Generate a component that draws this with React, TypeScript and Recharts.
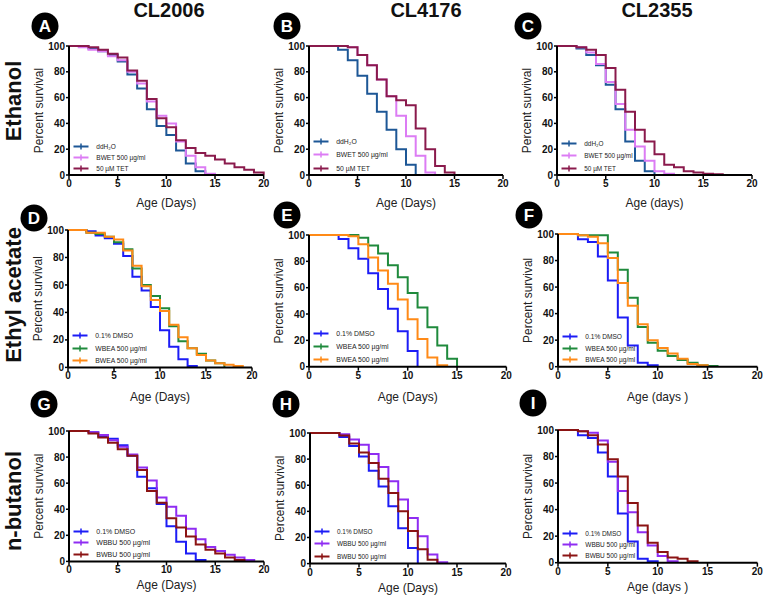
import React from "react";
import { LineChart, Line, XAxis, YAxis, Legend } from "recharts";

const FONT = "Arial, 'Liberation Sans', Helvetica, sans-serif";

// days on the x axis (index of every series = day)
const DAYS = [0, 1, 2, 3, 4, 5, 6, 7, 8, 9, 10, 11, 12, 13, 14, 15, 16, 17, 18, 19, 20];
const X_TICKS = [0, 5, 10, 15, 20];
const Y_TICKS = [0, 20, 40, 60, 80, 100];

// Ethanol row
const A_DDH2O = [100, 100, 98, 96, 93, 88, 78, 67, 51, 38, 31, 19, 9, 3, 0];
const A_BWET = [100, 99, 97, 96, 92, 89, 80, 71, 57, 46, 40, 26, 15, 6, 1, 0];
const A_TET = [100, 100, 99, 97, 94, 91, 81, 73, 59, 44, 37, 27, 21, 17, 15, 12, 9, 6, 4, 2, 0];

const B_DDH2O = [100, 100, 100, 97, 89, 77, 63, 49, 35, 20, 8, 0];
const B_BWET = [100, 100, 100, 100, 99, 93, 85, 74, 61, 46, 30, 15, 2, 0];
const B_TET = [100, 100, 100, 100, 99, 93, 85, 74, 61, 58, 54, 36, 20, 7, 2, 0];

const C_DDH2O = [100, 100, 98, 93, 85, 70, 51, 26, 11, 3, 0];
const C_BWET = [100, 100, 99, 95, 86, 72, 55, 35, 22, 11, 3, 1, 0];
const C_TET = [100, 100, 99, 97, 93, 83, 66, 49, 35, 26, 16, 8, 6, 3, 2, 1, 0.5, 0];

// Ethyl acetate row
const D_DMSO = [100, 100, 99, 96, 94, 90, 81, 66, 56, 44, 27, 15, 6, 1, 0];
const D_WBEA = [100, 100, 98, 97, 95, 91, 86, 72, 60, 52, 43, 30, 19, 14, 10, 5, 3, 0];
const D_BWEA = [100, 100, 98, 98, 95, 93, 85, 74, 59, 49, 41, 31, 22, 14, 9, 5, 3, 2, 1, 0];

const E_DMSO = [100, 100, 100, 97, 90, 82, 71, 59, 44, 27, 12, 0];
const E_WBEA = [100, 100, 100, 100, 100, 98, 92, 86, 77, 68, 56, 45, 30, 16, 6, 0];
const E_BWEA = [100, 100, 100, 100, 99, 93, 83, 73, 63, 51, 36, 21, 7, 1, 0];

const F_DMSO = [100, 100, 96, 94, 83, 65, 37, 16, 3, 1, 0];
const F_WBEA = [100, 100, 99, 99, 99, 86, 73, 52, 30, 18, 12, 8, 5, 3, 1, 0.5, 0];
const F_BWEA = [100, 100, 99, 98, 93, 82, 63, 46, 32, 20, 14, 10, 6, 2, 1, 0];

// n-butanol row
const G_DMSO = [100, 100, 99, 96, 94, 89, 81, 65, 56, 44, 27, 15, 6, 1, 0];
const G_WBBU = [100, 100, 99, 97, 93, 88, 82, 72, 62, 49, 42, 35, 25, 17, 11, 8, 5, 3, 1, 0];
const G_BWBU = [100, 100, 98, 95, 91, 86, 81, 70, 54, 45, 33, 26, 19, 13, 9, 6, 3, 1, 0];

const H_DMSO = [100, 100, 100, 97, 90, 82, 71, 59, 44, 27, 12, 0];
const H_WBBU = [100, 100, 100, 99, 95, 91, 84, 74, 63, 49, 35, 21, 7, 1, 0];
const H_BWBU = [100, 100, 100, 98, 92, 85, 77, 65, 54, 40, 25, 11, 3, 0];

const I_DMSO = [100, 100, 96, 94, 83, 65, 37, 16, 3, 1, 0];
const I_WBBU = [100, 100, 99, 98, 92, 76, 54, 38, 23, 13, 5, 1, 0];
const I_BWBU = [100, 100, 99, 96, 89, 78, 65, 45, 28, 15, 8, 4, 3, 1, 0];

const COL_HEADERS = ["CL2006", "CL4176", "CL2355"];
const ROW_LABELS = ["Ethanol", "Ethyl acetate", "n-butanol"];

const COLORS = {
  ddh2o: "#1d5796",
  bwet: "#dc7cf4",
  tet: "#8a1a4c",
  dmso: "#1c1cf6",
  wbea: "#1f8a3c",
  bwea: "#ff8a17",
  wbbu: "#8f2cf2",
  bwbu: "#8b1313",
};

const ETH = (a: number[], b: number[], c: number[]) => [
  { name: "ddH₂O", color: COLORS.ddh2o, values: a },
  { name: "BWET 500 µg/ml", color: COLORS.bwet, values: b },
  { name: "50 µM TET", color: COLORS.tet, values: c },
];
const EA = (a: number[], b: number[], c: number[]) => [
  { name: "0.1% DMSO", color: COLORS.dmso, values: a },
  { name: "WBEA 500 µg/ml", color: COLORS.wbea, values: b },
  { name: "BWEA 500 µg/ml", color: COLORS.bwea, values: c },
];
const BU = (a: number[], b: number[], c: number[]) => [
  { name: "0.1% DMSO", color: COLORS.dmso, values: a },
  { name: "WBBU 500 µg/ml", color: COLORS.wbbu, values: b },
  { name: "BWBU 500 µg/ml", color: COLORS.bwbu, values: c },
];

const PANELS = [
  { letter: "A", cx: 45, cy: 26, left: 69.3, right: 264, top: 46, bottom: 175, xTitle: "Age (Days)", titleDy: 28, gap: 11, lf: 6.5, series: ETH(A_DDH2O, A_BWET, A_TET) },
  { letter: "B", cx: 287, cy: 26, left: 309.3, right: 503.3, top: 46, bottom: 175, xTitle: "Age (Days)", titleDy: 28, gap: 13.5, lf: 6.8, series: ETH(B_DDH2O, B_BWET, B_TET) },
  { letter: "C", cx: 528, cy: 26, left: 557.3, right: 752.3, top: 46, bottom: 175, xTitle: "Age (days)", titleDy: 28, gap: 12.5, lf: 6.4, series: ETH(C_DDH2O, C_BWET, C_TET) },
  { letter: "D", cx: 34, cy: 218, left: 68.3, right: 252.3, top: 230.3, bottom: 367.7, xTitle: "Age (Days)", titleDy: 30, gap: 12.5, lf: 6.8, series: EA(D_DMSO, D_WBEA, D_BWEA) },
  { letter: "E", cx: 287, cy: 215, left: 309.3, right: 506.7, top: 235, bottom: 366.7, xTitle: "Age (Days)", titleDy: 30, gap: 13, lf: 6.9, series: EA(E_DMSO, E_WBEA, E_BWEA) },
  { letter: "F", cx: 529, cy: 215, left: 558.3, right: 757.7, top: 234, bottom: 366.7, xTitle: "Age (days )", titleDy: 30, gap: 11.5, lf: 6.6, series: EA(F_DMSO, F_WBEA, F_BWEA) },
  { letter: "G", cx: 44, cy: 404, left: 69.3, right: 264.3, top: 431.3, bottom: 561.7, xTitle: "Age (Days)", titleDy: 24, gap: 11.7, lf: 7, series: BU(G_DMSO, G_WBBU, G_BWBU) },
  { letter: "H", cx: 286, cy: 404, left: 310, right: 506, top: 432.7, bottom: 563.3, xTitle: "Age (Days)", titleDy: 24, gap: 12.5, lf: 6.4, series: BU(H_DMSO, H_WBBU, H_BWBU) },
  { letter: "I", cx: 533, cy: 403, left: 558.3, right: 757.7, top: 430, bottom: 562.7, xTitle: "Age (days )", titleDy: 24, gap: 11, lf: 6.5, series: BU(I_DMSO, I_WBBU, I_BWBU) },
];

const Y_W = 55;
const TOP_M = 8;
const RIGHT_M = 10;
const X_H = 40;

function makeLegend(gap: number, fontSize: number) {
  return ({ payload }: any) => (
    <div style={{ fontFamily: FONT }}>
      {(payload || []).map((p: any) => (
        <div key={p.value} style={{ display: "flex", alignItems: "center", height: gap }}>
          <svg width={16} height={7} style={{ display: "block" }}>
            <line x1={0.5} y1={3.5} x2={15.5} y2={3.5} stroke={p.color} strokeWidth={2} />
            <line x1={8} y1={0.5} x2={8} y2={6.5} stroke={p.color} strokeWidth={1.5} />
          </svg>
          <span style={{ marginLeft: 7, fontSize, color: "#222", whiteSpace: "nowrap" }}>{p.value}</span>
        </div>
      ))}
    </div>
  );
}

function Panel({ p }: { p: (typeof PANELS)[number] }) {
  const plotW = p.right - p.left;
  const plotH = p.bottom - p.top;
  const chartLeft = p.left - Y_W;
  const chartTop = p.top - TOP_M;
  const width = plotW + Y_W + RIGHT_M;
  const height = plotH + TOP_M + X_H;

  const rows = DAYS.map((d) => {
    const row: any = { day: d };
    p.series.forEach((s, i) => {
      row["s" + i] = d < s.values.length ? s.values[d] : null;
    });
    return row;
  });

  const legendTop = p.bottom - 7 - p.gap * 2.5 - chartTop;

  return (
    <div style={{ position: "absolute", left: chartLeft, top: chartTop }}>
      <LineChart width={width} height={height} data={rows} margin={{ top: TOP_M, right: RIGHT_M, left: 0, bottom: 0 }}>
        <XAxis
          dataKey="day"
          type="number"
          domain={[0, 20]}
          ticks={X_TICKS}
          interval={0}
          height={X_H}
          axisLine={{ stroke: "#000", strokeWidth: 2 }}
          tickLine={{ stroke: "#000", strokeWidth: 1.5 }}
          tickSize={4}
          tickMargin={1}
          tick={{ fill: "#111", fontSize: 10, fontWeight: 700, fontFamily: FONT }}
          label={() => (
            <text
              x={Y_W + plotW / 2}
              y={TOP_M + plotH + p.titleDy}
              textAnchor="middle"
              dominantBaseline="central"
              fontSize={12}
              fontFamily={FONT}
              fill="#222"
            >
              {p.xTitle}
            </text>
          )}
        />
        <YAxis
          domain={[0, 100]}
          ticks={Y_TICKS}
          interval={0}
          width={Y_W}
          axisLine={{ stroke: "#000", strokeWidth: 2 }}
          tickLine={{ stroke: "#000", strokeWidth: 1.5 }}
          tickSize={3}
          tickMargin={1}
          tick={{ fill: "#111", fontSize: 10, fontWeight: 700, fontFamily: FONT }}
          label={() => (
            <text
              transform={`translate(${Y_W - 30},${TOP_M + plotH / 2}) rotate(-90)`}
              textAnchor="middle"
              dominantBaseline="central"
              fontSize={12}
              fontFamily={FONT}
              fill="#222"
            >
              Percent survival
            </text>
          )}
        />
        {p.series.map((s, i) => (
          <Line
            key={s.name}
            type="stepAfter"
            dataKey={"s" + i}
            name={s.name}
            stroke={s.color}
            strokeWidth={2}
            dot={false}
            connectNulls={false}
            isAnimationActive={false}
          />
        ))}
        <Legend
          layout="vertical"
          align="center"
          verticalAlign="middle"
          itemSorter="dataKey"
          content={makeLegend(p.gap, p.lf)}
          wrapperStyle={{ left: p.left + 4 - chartLeft, top: legendTop, width: "auto", height: "auto" }}
        />
      </LineChart>
    </div>
  );
}

export default function App() {
  return (
    <div style={{ position: "absolute", left: 0, top: 0, width: 764, height: 600, background: "#fff", overflow: "hidden" }}>
      {PANELS.map((p) => (
        <Panel key={p.letter} p={p} />
      ))}
      <svg width={764} height={600} style={{ position: "absolute", left: 0, top: 0, pointerEvents: "none" }}>
        {COL_HEADERS.map((t, i) => (
          <text key={t} x={[169, 426, 657][i]} y={17} textAnchor="middle" fontSize={20} fontWeight={700} fontFamily={FONT} fill="#111">
            {t}
          </text>
        ))}
        {ROW_LABELS.map((t, i) => (
          <text
            key={t}
            transform={`translate(13,${[101, 295, 501][i]}) rotate(-90)`}
            textAnchor="middle"
            dominantBaseline="central"
            fontSize={22}
            fontWeight={700}
            fontFamily={FONT}
            fill="#111"
          >
            {t}
          </text>
        ))}
        {PANELS.map((p) => (
          <g key={p.letter}>
            <circle cx={p.cx} cy={p.cy} r={13.5} fill="#000" />
            <text x={p.cx} y={p.cy + 0.5} textAnchor="middle" dominantBaseline="central" fontSize={17} fontWeight={700} fontFamily={FONT} fill="#fff">
              {p.letter}
            </text>
          </g>
        ))}
      </svg>
    </div>
  );
}
